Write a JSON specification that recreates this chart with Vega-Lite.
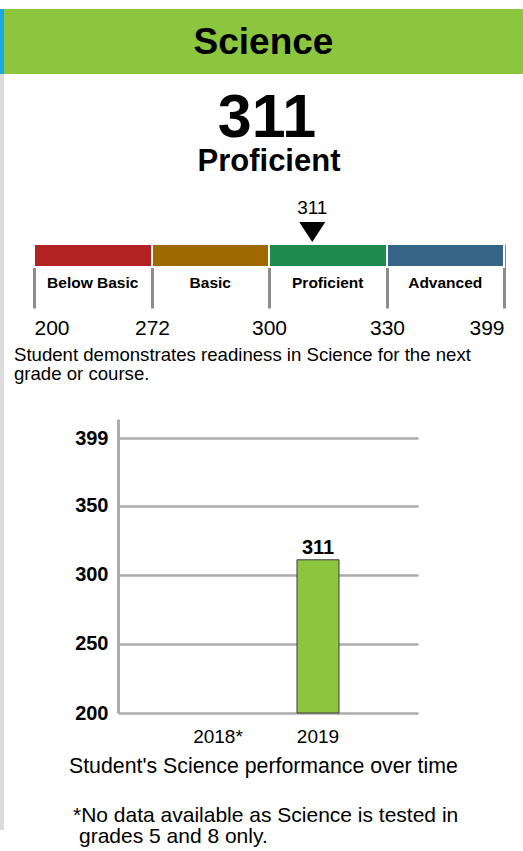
{
  "$schema": "https://vega.github.io/schema/vega-lite/v6.json",
  "padding": {"left": 0, "top": 9, "right": 0, "bottom": 0},
  "background": "white",
  "config": {"font": "Liberation Sans", "view": {"stroke": null}, "concat": {"spacing": 0}},
  "spacing": 0,
  "hconcat": [
    {
      "bounds": "flush",
      "spacing": 0,
      "vconcat": [
        {"width": 4, "height": 65, "view": {"fill": "#1aa8e4", "stroke": null}, "data": {"values": [{}]}, "mark": "text", "encoding": {"text": {"value": ""}}},
        {"width": 4, "height": 756, "view": {"fill": "#dcdcdc", "stroke": null}, "data": {"values": [{}]}, "mark": "text", "encoding": {"text": {"value": ""}}}
      ]
    },
    {
      "bounds": "flush",
      "spacing": 0,
      "vconcat": [
        {
          "width": 519, "height": 65,
          "view": {"fill": "#8cc63f", "stroke": null},
          "data": {"values": [{"subject": "Science"}]},
          "mark": {"type": "text", "fontSize": 37, "fontWeight": "bold", "baseline": "alphabetic", "color": "#000"},
          "encoding": {"text": {"field": "subject"}, "y": {"value": 45}}
        },
        {
          "width": 519, "height": 170,
          "data": {"values": [{"score": 311, "level": "Proficient"}]},
          "layer": [
            {
              "mark": {"type": "text", "fontSize": 61, "fontWeight": "bold", "baseline": "alphabetic", "color": "#000"},
              "encoding": {"text": {"field": "score"}, "x": {"value": 263}, "y": {"value": 63}}
            },
            {
              "mark": {"type": "text", "fontSize": 31, "fontWeight": "bold", "baseline": "alphabetic", "color": "#000"},
              "encoding": {"text": {"field": "level"}, "x": {"value": 265}, "y": {"value": 97}}
            },
            {
              "mark": {"type": "text", "fontSize": 19, "baseline": "alphabetic", "color": "#000"},
              "encoding": {
                "text": {"field": "score"},
                "x": {"field": "score", "type": "quantitative", "scale": {"domain": [200, 272, 300, 330, 399], "range": [30, 148, 265, 383, 500], "zero": false, "nice": false}, "axis": null},
                "y": {"value": 140}
              }
            },
            {
              "mark": {"type": "point", "shape": "M-1,-0.77L1,-0.77L0,0.77Z", "size": 676, "filled": true, "color": "#000", "opacity": 1},
              "encoding": {
                "x": {"field": "score", "type": "quantitative", "scale": {"domain": [200, 272, 300, 330, 399], "range": [30, 148, 265, 383, 500], "zero": false, "nice": false}, "axis": null},
                "y": {"value": 158}
              }
            }
          ]
        },
        {
          "width": 519, "height": 64,
          "data": {"values": [
            {"level": "Below Basic", "lo": 200, "hi": 272},
            {"level": "Basic", "lo": 272, "hi": 300},
            {"level": "Proficient", "lo": 300, "hi": 330},
            {"level": "Advanced", "lo": 330, "hi": 399}
          ]},
          "layer": [
            {
              "mark": {"type": "rect", "stroke": "white", "strokeWidth": 2},
              "encoding": {
                "x": {"field": "lo", "type": "quantitative", "scale": {"domain": [200, 272, 300, 330, 399], "range": [30, 148, 265, 383, 500], "zero": false, "nice": false},
                  "axis": {"title": null, "values": [200, 272, 300, 330, 399], "grid": true, "gridColor": "#8c8c8c", "gridWidth": 3, "domain": false, "ticks": false, "tickSize": 0, "labelFontSize": 21, "labelPadding": 26, "labelBaseline": "alphabetic", "labelFlush": true, "labelOverlap": false, "labelColor": "#000", "labelFont": "Liberation Sans"}},
                "x2": {"field": "hi"},
                "y": {"value": 0},
                "y2": {"value": 23},
                "color": {"field": "level", "type": "nominal", "scale": {"domain": ["Below Basic", "Basic", "Proficient", "Advanced"], "range": ["#b22222", "#9e6a00", "#1f8a4e", "#366487"]}, "legend": null}
              }
            },
            {
              "mark": {"type": "text", "fontSize": 15.5, "fontWeight": "bold", "baseline": "middle", "color": "#000"},
              "encoding": {
                "text": {"field": "level"},
                "x": {"field": "level", "type": "nominal", "sort": null, "scale": {"type": "band", "domain": ["Below Basic", "Basic", "Proficient", "Advanced"], "range": [30, 500], "paddingInner": 0, "paddingOuter": 0}, "axis": null},
                "y": {"value": 39}
              }
            }
          ],
          "resolve": {"scale": {"x": "independent"}, "axis": {"x": "independent"}}
        },
        {
          "width": 519, "height": 111,
          "data": {"values": [{"desc": "Student demonstrates readiness in Science for the next\ngrade or course."}]},
          "mark": {"type": "text", "fontSize": 18.6, "align": "left", "baseline": "alphabetic", "lineBreak": "\n", "lineHeight": 18.5, "color": "#000"},
          "encoding": {"text": {"field": "desc"}, "x": {"value": 10}, "y": {"value": 53}}
        },
        {
          "width": 519, "height": 294,
          "data": {"values": [{"year": "2018*", "score": null}, {"year": "2019", "score": 311}]},
          "encoding": {
            "x": {"field": "year", "type": "nominal", "sort": null,
              "scale": {"domain": ["2018*", "2019"], "range": [114, 414], "paddingInner": 0.58, "paddingOuter": 0.79},
              "axis": {"title": null, "domain": false, "ticks": false, "tickSize": 0, "labelAngle": 0, "labelFontSize": 19, "labelPadding": 29, "labelBaseline": "alphabetic", "labelColor": "#000"}},
            "y": {"field": "score", "type": "quantitative",
              "scale": {"domain": [200, 413], "zero": false, "nice": false},
              "axis": {"title": null, "offset": -114, "values": [200, 250, 300, 350, 399], "grid": true, "gridColor": "#ababab", "gridWidth": 2.5, "domainColor": "#ababab", "domainWidth": 3, "ticks": false, "tickSize": 0, "labelFontSize": 20, "labelFontWeight": "bold", "labelPadding": 10, "labelColor": "#000"}}
          },
          "layer": [
            {"mark": {"type": "bar", "color": "#8cc63f", "stroke": "#3b3b3b", "strokeWidth": 1}, "encoding": {"y2": {"datum": 200}}},
            {"mark": {"type": "text", "fontSize": 20, "fontWeight": "bold", "baseline": "alphabetic", "dy": -6, "color": "#000"}, "encoding": {"text": {"field": "score"}}}
          ]
        },
        {
          "width": 519, "height": 138,
          "data": {"values": [{"caption": "Student's Science performance over time", "note1": "*No data available as Science is tested in", "note2": "grades 5 and 8 only."}]},
          "layer": [
            {
              "mark": {"type": "text", "fontSize": 21.3, "align": "left", "baseline": "alphabetic", "color": "#000"},
              "encoding": {"text": {"field": "caption"}, "x": {"value": 65}, "y": {"value": 60}}
            },
            {
              "mark": {"type": "text", "fontSize": 21, "align": "left", "baseline": "alphabetic", "color": "#000"},
              "encoding": {"text": {"field": "note1"}, "x": {"value": 69}, "y": {"value": 109}}
            },
            {
              "mark": {"type": "text", "fontSize": 21, "align": "left", "baseline": "alphabetic", "color": "#000"},
              "encoding": {"text": {"field": "note2"}, "x": {"value": 75}, "y": {"value": 130}}
            }
          ]
        }
      ]
    }
  ]
}
